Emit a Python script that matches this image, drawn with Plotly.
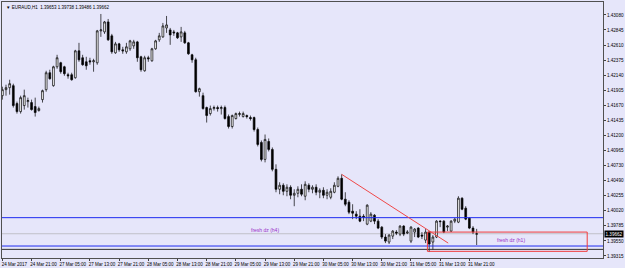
import plotly.graph_objects as go

# ---------------- data (EURAUD H1, 24 Mar 13:00 -> 31 Mar 23:00) ----------------
opens = [1.41819,1.41913,1.41944,1.41975,1.41695,1.41570,1.41664,1.41726,1.41711,1.41648,
         1.41586,1.41757,1.41913,1.42177,1.41975,1.42270,1.42333,1.42270,1.42146,1.42146,
         1.42099,1.42519,1.42411,1.42348,1.42364,1.42348,1.42333,1.42831,1.42815,1.42971,
         1.42753,1.42488,1.42628,1.42535,1.42504,1.42551,1.42597,1.42659,1.42426,1.42208,
         1.42411,1.42364,1.42551,1.42691,1.42737,1.42877,1.42846,1.42815,1.42800,1.42737,
         1.42800,1.42644,1.42457,1.42379,1.41881,1.41819,1.41633,1.41539,1.41617,1.41633,
         1.41617,1.41633,1.41492,1.41337,1.41461,1.41524,1.41492,1.41508,1.41477,1.41477,
         1.41290,1.41088,1.40823,1.41103,1.40979,1.40668,1.40357,1.40419,1.40325,1.40388,
         1.40263,1.40294,1.40357,1.40248,1.40419,1.40357,1.40388,1.40310,1.40341,1.40263,
         1.40232,1.40310,1.40403,1.40528,1.40201,1.40154,1.40014,1.39968,1.39936,1.39936,
         1.39812,1.39859,1.39952,1.39859,1.39765,1.39610,1.39532,1.39625,1.39688,1.39656,
         1.39781,1.39672,1.39547,1.39688,1.39750,1.39641,1.39563,1.39688,1.39532,1.39610,
         1.39859,1.39859,1.39765,1.39703,1.39859,1.39843,1.40217,1.40061,1.39905,1.39750,
         1.39653]
highs = [1.41959,1.41990,1.42068,1.42006,1.41726,1.41819,1.41913,1.41788,1.41757,1.41788,
         1.41648,1.41913,1.42208,1.42224,1.42286,1.42457,1.42348,1.42286,1.42177,1.42177,
         1.42535,1.42644,1.42457,1.42426,1.42411,1.42395,1.42846,1.43095,1.42986,1.43017,
         1.42784,1.42659,1.42644,1.42582,1.42644,1.42691,1.42691,1.42675,1.42442,1.42442,
         1.42442,1.42566,1.42691,1.42800,1.42955,1.43064,1.42877,1.42846,1.42815,1.42893,
         1.42831,1.42659,1.42473,1.42411,1.41944,1.41866,1.41648,1.41664,1.41664,1.41664,
         1.41664,1.41664,1.41524,1.41524,1.41555,1.41570,1.41570,1.41524,1.41508,1.41492,
         1.41321,1.41119,1.41212,1.41150,1.41010,1.40746,1.40466,1.40450,1.40434,1.40419,
         1.40357,1.40403,1.40434,1.40481,1.40450,1.40419,1.40434,1.40372,1.40388,1.40357,
         1.40372,1.40466,1.40559,1.40590,1.40310,1.40185,1.40123,1.40014,1.40045,1.39968,
         1.40123,1.39999,1.39968,1.39890,1.39781,1.39656,1.39656,1.39719,1.39719,1.39796,
         1.39796,1.39719,1.39781,1.39750,1.39765,1.39688,1.39734,1.39703,1.39641,1.39874,
         1.39874,1.39874,1.39796,1.39874,1.39905,1.40248,1.40232,1.40092,1.39921,1.39781,
         1.39738]
lows = [1.41757,1.41819,1.41835,1.41633,1.41539,1.41539,1.41601,1.41633,1.41586,1.41492,
        1.41570,1.41711,1.41881,1.42068,1.41959,1.42239,1.42162,1.42130,1.42084,1.42053,
        1.42084,1.42348,1.42286,1.42224,1.42302,1.42193,1.42302,1.42737,1.42784,1.42675,
        1.42473,1.42473,1.42504,1.42473,1.42473,1.42519,1.42551,1.42348,1.42193,1.42193,
        1.42348,1.42348,1.42535,1.42659,1.42722,1.42800,1.42613,1.42753,1.42706,1.42659,
        1.42628,1.42457,1.42333,1.41866,1.41804,1.41601,1.41399,1.41508,1.41586,1.41570,
        1.41524,1.41446,1.41306,1.41306,1.41446,1.41492,1.41477,1.41461,1.41430,1.41259,
        1.41026,1.40792,1.40777,1.40948,1.40637,1.40310,1.40279,1.40263,1.40248,1.40201,
        1.40092,1.40232,1.40248,1.40185,1.40310,1.40294,1.40263,1.40217,1.40217,1.40201,
        1.40201,1.40294,1.40388,1.40185,1.40092,1.39968,1.39890,1.39890,1.39843,1.39859,
        1.39796,1.39843,1.39812,1.39734,1.39579,1.39516,1.39501,1.39579,1.39641,1.39625,
        1.39625,1.39656,1.39516,1.39610,1.39594,1.39579,1.39516,1.39376,1.39408,1.39594,
        1.39765,1.39672,1.39703,1.39688,1.39828,1.39828,1.40030,1.39874,1.39734,1.39656,
        1.39486]
closes = [1.41913,1.41944,1.42006,1.41664,1.41570,1.41788,1.41819,1.41742,1.41601,1.41555,
          1.41617,1.41897,1.42177,1.42084,1.42270,1.42411,1.42193,1.42162,1.42130,1.42068,
          1.42519,1.42379,1.42302,1.42286,1.42348,1.42364,1.42831,1.42846,1.42971,1.42691,
          1.42504,1.42628,1.42535,1.42519,1.42582,1.42675,1.42659,1.42411,1.42224,1.42411,
          1.42395,1.42551,1.42675,1.42753,1.42908,1.42924,1.42768,1.42800,1.42722,1.42815,
          1.42644,1.42473,1.42379,1.41881,1.41928,1.41617,1.41508,1.41617,1.41633,1.41617,
          1.41633,1.41461,1.41337,1.41508,1.41539,1.41539,1.41539,1.41492,1.41461,1.41290,
          1.41057,1.40823,1.41135,1.40979,1.40668,1.40357,1.40419,1.40325,1.40388,1.40263,
          1.40294,1.40357,1.40279,1.40434,1.40357,1.40388,1.40310,1.40341,1.40263,1.40310,
          1.40325,1.40419,1.40528,1.40201,1.40123,1.39999,1.39983,1.39936,1.39859,1.39921,
          1.40108,1.39968,1.39859,1.39750,1.39610,1.39547,1.39641,1.39703,1.39672,1.39781,
          1.39656,1.39688,1.39765,1.39734,1.39610,1.39625,1.39688,1.39501,1.39610,1.39859,
          1.39851,1.39688,1.39781,1.39859,1.39890,1.40217,1.40045,1.39890,1.39750,1.39688,
          1.39662]
bars = list(range(len(opens)))

time_tick_bars = [0, 8, 16, 24, 32, 40, 48, 56, 64, 72, 80, 88, 96, 104, 112, 120, 128]
time_tick_labels = ["24 Mar 2017", "24 Mar 21:00", "27 Mar 05:00", "27 Mar 13:00",
                    "27 Mar 21:00", "28 Mar 05:00", "28 Mar 13:00", "28 Mar 21:00",
                    "29 Mar 05:00", "29 Mar 13:00", "29 Mar 21:00", "30 Mar 05:00",
                    "30 Mar 13:00", "30 Mar 21:00", "31 Mar 05:00", "31 Mar 13:00",
                    "31 Mar 21:00"]
price_ticks = [1.43080, 1.42845, 1.42610, 1.42375, 1.42140, 1.41905, 1.41670, 1.41435,
               1.41200, 1.40965, 1.40730, 1.40490, 1.40255, 1.40020, 1.39785, 1.39550,
               1.39315]
price_tick_labels = ["1.43080", "1.42845", "1.42610", "1.42375", "1.42140", "1.41905",
                     "1.41670", "1.41435", "1.41200", "1.40965", "1.40730", "1.40490",
                     "1.40255", "1.40020", "1.39785", "1.39550", "1.39315"]

title_text = "EURAUD,H1  1.39653 1.39738 1.39486 1.39662"
current_price = 1.39662
blue_levels = [1.39913, 1.39470]
black_level = 1.39418
h1_zone = {"x0": 116.5, "x1": 160.3, "y0": 1.39387, "y1": 1.39688}
trend = {"x0": 93, "y0": 1.40590, "x1": 122.2, "y1": 1.39516}
zone_labels = [("fresh dz (h4)", 72, 1.39719), ("fresh dz (h1)", 139.5, 1.39563)]

BG = "#E6E6FA"
FONT = "Liberation Sans"

fig = go.Figure()
fig.add_trace(go.Candlestick(
    x=bars, open=opens, high=highs, low=lows, close=closes,
    increasing=dict(line=dict(color="black", width=0.7), fillcolor="white"),
    decreasing=dict(line=dict(color="black", width=0.7), fillcolor="black"),
    whiskerwidth=0, showlegend=False, hoverinfo="skip",
))

shapes = []
shapes.append(dict(type="line", xref="paper", x0=0, x1=1, yref="y", y0=current_price,
                   y1=current_price, line=dict(color="#C0C0C8", width=1), layer="below"))
for lv in blue_levels:
    shapes.append(dict(type="line", xref="paper", x0=0, x1=1, yref="y", y0=lv, y1=lv,
                       line=dict(color="#1E2BF0", width=1)))
shapes.append(dict(type="line", xref="paper", x0=0, x1=1, yref="y", y0=black_level,
                   y1=black_level, line=dict(color="#303030", width=1)))
shapes.append(dict(type="rect", xref="x", yref="y", x0=h1_zone["x0"], x1=h1_zone["x1"],
                   y0=h1_zone["y0"], y1=h1_zone["y1"],
                   line=dict(color="#F03C3C", width=1), fillcolor="rgba(0,0,0,0)"))
shapes.append(dict(type="line", xref="x", yref="y", x0=trend["x0"], y0=trend["y0"],
                   x1=trend["x1"], y1=trend["y1"], line=dict(color="#F04848", width=1)))

annotations = []
for txt, xb, yp in zone_labels:
    annotations.append(dict(x=xb, y=yp, xref="x", yref="y", text=txt, showarrow=False,
                            font=dict(family=FONT, size=5, color="#9A2FC8")))
annotations.append(dict(x=0, y=1, xref="paper", yref="paper", xanchor="left", yanchor="top",
                        xshift=2, yshift=-1, text="▼ " + title_text, showarrow=False,
                        font=dict(family=FONT, size=4.5, color="black")))
annotations.append(dict(x=1, y=current_price, xref="paper", yref="y", xanchor="left",
                        yanchor="middle", xshift=1, text=str(current_price), showarrow=False,
                        bgcolor="black", borderpad=0.5,
                        font=dict(family=FONT, size=4.6, color="white")))

fig.update_layout(
    width=625, height=268,
    margin=dict(l=1, r=20, t=2, b=9),
    paper_bgcolor=BG, plot_bgcolor=BG,
    shapes=shapes, annotations=annotations,
    boxgap=0.3,
    xaxis=dict(range=[-0.1, 164.63], rangeslider=dict(visible=False),
               tickmode="array", tickvals=time_tick_bars, ticktext=time_tick_labels,
               ticks="outside", ticklen=2, tickcolor="#404040",
               tickfont=dict(family=FONT, size=4.5, color="black"),
               ticklabelshift=12, ticklabelstandoff=0,
               showgrid=False, zeroline=False, showline=True, mirror=True,
               linecolor="#505050", linewidth=1),
    yaxis=dict(range=[1.39283, 1.43282], side="right",
               tickmode="array", tickvals=price_ticks, ticktext=price_tick_labels,
               ticks="outside", ticklen=2, tickcolor="#404040",
               tickfont=dict(family=FONT, size=4.6, color="black"),
               showgrid=False, zeroline=False, showline=True, mirror=True,
               linecolor="#505050", linewidth=1),
)

fig.write_html("out.html")
